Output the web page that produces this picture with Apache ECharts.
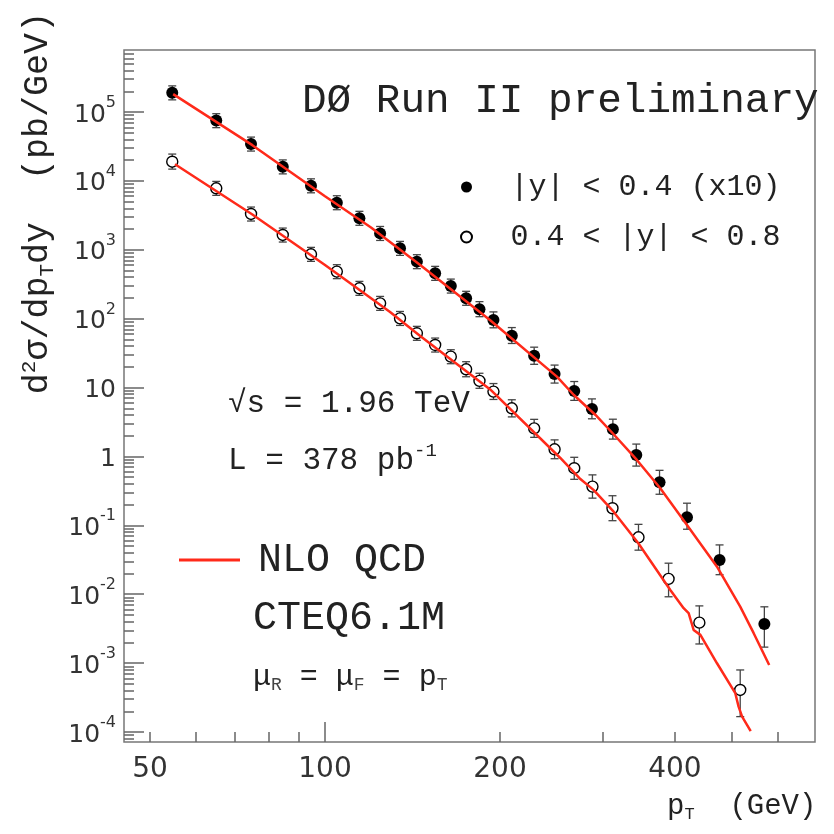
<!DOCTYPE html>
<html><head><meta charset="utf-8">
<script src="https://cdn.jsdelivr.net/npm/echarts@6/dist/echarts.min.js"></script>
<style>html,body{margin:0;padding:0;background:#fff}#c{width:834px;height:834px}</style>
</head><body><div id="c"></div>
<script>
// ---------- data ----------
// |y| < 0.4 (x10), filled markers
const ptFilled = [54.6, 65.0, 74.6, 84.6, 94.6, 104.8, 114.6, 124.4, 134.6, 143.9, 154.7, 164.6, 174.9, 184.4, 194.9, 209.6, 229.0, 248.3, 268.4, 287.9, 312.8, 343.2, 376.3, 419.5, 477.3, 570.0];
const xsFilled = [1.9e5, 7.5e4, 3.43e4, 1.6e4, 8.5e3, 4.83e3, 2.87e3, 1.73e3, 1.05e3, 673, 456, 298, 198, 137, 95.7, 56.7, 29.0, 15.7, 8.93, 4.89, 2.48, 1.05, 0.422, 0.131, 0.0315, 0.00371];
const errUpFilled = [0.26,0.26,0.26,0.26,0.26,0.26,0.26,0.26,0.26,0.26,0.26,0.26,0.26,0.29,0.31,0.31,0.33,0.35,0.37,0.40,0.40,0.44,0.49,0.60,0.65,0.77];
const errDnFilled = [0.21,0.21,0.21,0.21,0.21,0.21,0.21,0.21,0.21,0.21,0.21,0.21,0.21,0.22,0.23,0.23,0.25,0.26,0.27,0.28,0.28,0.31,0.33,0.33,0.39,0.54];

// 0.4 < |y| < 0.8, open markers
const ptOpen = [54.6, 65.0, 74.6, 84.6, 94.6, 104.8, 114.6, 124.4, 134.6, 143.9, 154.7, 164.6, 174.9, 184.4, 194.9, 209.6, 229.0, 248.3, 268.4, 288.5, 312.3, 346.2, 390.0, 440.6, 518.0];
const xsOpen = [1.9e4, 7.8e3, 3.31e3, 1.64e3, 860, 482, 276, 167, 101, 61.4, 41.5, 28.1, 18.4, 12.5, 8.73, 5.0, 2.56, 1.27, 0.675, 0.365, 0.177, 0.0671, 0.0167, 0.00387, 4.08e-4];
const errUpOpen = [0.29,0.26,0.26,0.26,0.26,0.26,0.26,0.26,0.26,0.26,0.26,0.26,0.29,0.29,0.31,0.33,0.35,0.37,0.44,0.48,0.52,0.54,0.69,0.75,0.95];
const errDnOpen = [0.22,0.21,0.21,0.21,0.21,0.21,0.21,0.21,0.21,0.21,0.21,0.21,0.22,0.22,0.23,0.25,0.26,0.27,0.31,0.32,0.34,0.35,0.45,0.51,0.59];

// NLO QCD curves
const ptNloFilled = [54.8, 75, 100, 120, 145.8, 192.4, 250.6, 268, 292, 313.7, 344, 377.4, 419.5, 472.5, 518, 546.4, 581];
const nloFilled = [1.82e5, 3.3e4, 6.0e3, 2.1e3, 600, 95, 14.4, 7.8, 4.0, 2.1, 0.89, 0.345, 0.101, 0.0251, 0.0066, 0.00272, 9.4e-4];
const ptNloOpen = [55.2, 75, 100, 129.4, 145.8, 192.4, 254, 275, 289.7, 313.7, 346, 392.7, 414, 422.3, 430.7, 442.4, 472.5, 508, 514.7, 521.9, 540];
const nloOpen = [1.74e4, 3.25e3, 600, 125, 56, 9.4, 0.95, 0.47, 0.327, 0.158, 0.055, 0.01154, 0.00627, 0.0053, 0.00303, 0.00257, 9.95e-4, 3.66e-4, 2.34e-4, 1.67e-4, 1.03e-4];

// axis ticks / labels
const xLabelVals = [50, 100, 200, 400];
const xMinorTickVals = [50, 60, 70, 80, 90, 200, 300, 400, 500, 600, 700];
const xMajorTickVals = [100];
const yDecades = [-4, -3, -2, -1, 0, 1, 2, 3, 4, 5];

const nameFilled = '|y| < 0.4 (x10)';
const nameOpen = '0.4 < |y| < 0.8';
const nameNlo = 'NLO QCD';

// ---------- layout / styles ----------
const L = Math.log10;
const X_MIN = 1.6542, X_MAX = 2.8430, Y_MIN = -4.145, Y_MAX = 5.9;
const MONO = 'Liberation Mono';
const SANS = 'DejaVu Sans';
const RED = '#ff2a1a';
const AXC = '#666';

const yMinorTicks = [];
for (let n = -5; n <= 5; n++) for (let k = 2; k <= 9; k++) {
  const v = n + L(k); if (v > Y_MIN && v < Y_MAX) yMinorTicks.push(v);
}

function pairs(xs, ys) { return xs.map((x, i) => [L(x), L(ys[i])]); }
function errData(xs, ys, up, dn) { return xs.map((x, i) => [L(x), L(ys[i] * (1 + up[i])), L(ys[i] * (1 - dn[i]))]); }

function errSeries(xs, ys, up, dn) {
  return {
    type: 'custom', silent: true, z: 2, xAxisIndex: 0, yAxisIndex: 0,
    encode: { x: 0, y: [1, 2] },
    data: errData(xs, ys, up, dn),
    renderItem(params, api) {
      const x = api.value(0);
      const a = api.coord([x, api.value(1)]);
      const b = api.coord([x, api.value(2)]);
      const w = 4, st = { stroke: '#444', lineWidth: 1.3 };
      return { type: 'group', children: [
        { type: 'line', shape: { x1: a[0], y1: a[1], x2: b[0], y2: b[1] }, style: st },
        { type: 'line', shape: { x1: a[0] - w, y1: a[1], x2: a[0] + w, y2: a[1] }, style: st },
        { type: 'line', shape: { x1: b[0] - w, y1: b[1], x2: b[0] + w, y2: b[1] }, style: st }
      ]};
    }
  };
}

function yFmt(v) {
  const n = Math.round(v);
  if (n === 0) return '{b|1}';
  if (n === 1) return '{b|10}';
  return '{b|10}{e|' + n + '}';
}

const chart = echarts.init(document.getElementById('c'), null, { renderer: 'canvas' });
chart.setOption({
  animation: false,
  backgroundColor: '#fff',
  grid: { left: 124, right: 19, top: 50, bottom: 92, show: true, borderColor: '#777', borderWidth: 1.5, containLabel: false, outerBoundsMode: 'none' },
  xAxis: [
    { type: 'value', min: X_MIN, max: X_MAX, position: 'bottom', axisLine: { show: false, onZero: false }, splitLine: { show: false },
      axisTick: { show: true, inside: true, length: 10, customValues: xMinorTickVals.map(L), lineStyle: { color: AXC, width: 1.5 } },
      axisLabel: { customValues: xLabelVals.map(L), formatter: v => String(Math.round(Math.pow(10, v))), margin: 14, fontSize: 28, color: '#333', fontFamily: SANS } },
    { type: 'value', min: X_MIN, max: X_MAX, position: 'bottom', axisLine: { show: false, onZero: false }, splitLine: { show: false },
      axisTick: { show: true, inside: true, length: 20, customValues: xMajorTickVals.map(L), lineStyle: { color: AXC, width: 1.5 } },
      axisLabel: { show: false } }
  ],
  yAxis: [
    { type: 'value', min: Y_MIN, max: Y_MAX, position: 'left', axisLine: { show: false, onZero: false }, splitLine: { show: false },
      axisTick: { show: true, inside: true, length: 10, customValues: yMinorTicks, lineStyle: { color: AXC, width: 1.5 } },
      axisLabel: { customValues: yDecades, formatter: yFmt, margin: 8, padding: [6, 0, 0, 0],
        rich: { b: { fontSize: 25, fontFamily: SANS, color: '#333' },
                e: { fontSize: 16, fontFamily: SANS, color: '#333', verticalAlign: 'top', padding: [0, 0, 24, 0] } } } },
    { type: 'value', min: Y_MIN, max: Y_MAX, position: 'left', axisLine: { show: false, onZero: false }, splitLine: { show: false },
      axisTick: { show: true, inside: true, length: 20, customValues: yDecades, lineStyle: { color: AXC, width: 1.5 } },
      axisLabel: { show: false } }
  ],
  legend: [
    { data: [nameFilled, nameOpen], orient: 'vertical', left: 455, top: 167, itemWidth: 78, itemHeight: 11, itemGap: 20,
      selectedMode: false, textStyle: { fontFamily: MONO, fontSize: 30, color: '#222' } },
    { data: [{ name: nameNlo, icon: 'rect', itemStyle: { color: RED } }], left: 174, top: 535, itemWidth: 61, itemHeight: 3, selectedMode: false,
      formatter: n => '{t|' + n + '}',
      textStyle: { rich: { t: { fontFamily: MONO, fontSize: 40, color: '#222', padding: [0, 0, 0, 13] } } } }
  ],
  series: [
    errSeries(ptFilled, xsFilled, errUpFilled, errDnFilled),
    errSeries(ptOpen, xsOpen, errUpOpen, errDnOpen),
    { name: nameFilled, type: 'scatter', z: 3, symbol: 'circle', symbolSize: 12, data: pairs(ptFilled, xsFilled),
      itemStyle: { color: '#000', opacity: 1 } },
    { name: nameOpen, type: 'scatter', z: 3, symbol: 'circle', symbolSize: 11, data: pairs(ptOpen, xsOpen),
      itemStyle: { color: '#fff', borderColor: '#000', borderWidth: 1.4, opacity: 1 } },
    { name: nameNlo, type: 'line', z: 4, symbol: 'none', showSymbol: false, smooth: false, data: pairs(ptNloFilled, nloFilled),
      lineStyle: { color: RED, width: 2.5 }, itemStyle: { color: RED } },
    { name: nameNlo, type: 'line', z: 4, symbol: 'none', showSymbol: false, smooth: false, data: pairs(ptNloOpen, nloOpen),
      lineStyle: { color: RED, width: 2.5 }, itemStyle: { color: RED } }
  ],
  graphic: [
    { type: 'text', x: 302, y: 101, style: { text: 'DØ Run II preliminary', font: '41px "Liberation Mono"', fill: '#222',
      align: 'left', verticalAlign: 'middle', textAlign: 'left', textVerticalAlign: 'middle' } },
    { type: 'text', x: 228, y: 404, style: { text: '√s = 1.96 TeV', font: '31px "Liberation Mono"', fill: '#222',
      align: 'left', verticalAlign: 'middle', textAlign: 'left', textVerticalAlign: 'middle' } },
    { type: 'text', x: 228, y: 461, style: { text: '{a|L = 378 pb}{s|-1}', align: 'left', verticalAlign: 'middle', textAlign: 'left', textVerticalAlign: 'middle',
      rich: { a: { fontFamily: MONO, fontSize: 31, fill: '#222', color: '#222' },
              s: { fontFamily: MONO, fontSize: 19, fill: '#222', color: '#222', verticalAlign: 'top', padding: [0, 0, 20, 0] } } } },
    { type: 'text', x: 253, y: 618, style: { text: 'CTEQ6.1M', font: '40px "Liberation Mono"', fill: '#222',
      align: 'left', verticalAlign: 'middle', textAlign: 'left', textVerticalAlign: 'middle' } },
    { type: 'text', x: 253, y: 677, style: { text: '{m|μ}{s|R}{m| = μ}{s|F}{m| = p}{s|T}', align: 'left', verticalAlign: 'middle', textAlign: 'left', textVerticalAlign: 'middle',
      rich: { m: { fontFamily: MONO, fontSize: 30, fill: '#222', color: '#222' },
              s: { fontFamily: MONO, fontSize: 18, fill: '#444', color: '#444', verticalAlign: 'bottom', padding: [16, 0, 0, 0] } } } },
    { type: 'text', x: 38, y: 203, rotation: Math.PI / 2, style: { text: '{a|d}{s|2}{a|σ/dp}{b|T}{a|dy  (pb/GeV)}', align: 'center', verticalAlign: 'middle', textAlign: 'center', textVerticalAlign: 'middle',
      rich: { a: { fontFamily: MONO, fontSize: 35, fill: '#222', color: '#222' },
              s: { fontFamily: MONO, fontSize: 21, fill: '#222', color: '#222', verticalAlign: 'top', padding: [0, 0, 18, 0] },
              b: { fontFamily: MONO, fontSize: 21, fill: '#222', color: '#222', verticalAlign: 'bottom', padding: [18, 0, 0, 0] } } } },
    { type: 'text', x: 667, y: 806, style: { text: '{a|p}{s|T}{a|  (GeV)}', align: 'left', verticalAlign: 'middle', textAlign: 'left', textVerticalAlign: 'middle',
      rich: { a: { fontFamily: MONO, fontSize: 29, fill: '#222', color: '#222' },
              s: { fontFamily: MONO, fontSize: 17, fill: '#222', color: '#222', verticalAlign: 'bottom', padding: [16, 0, 0, 0] } } } }
  ]
});
</script>
</body></html>
